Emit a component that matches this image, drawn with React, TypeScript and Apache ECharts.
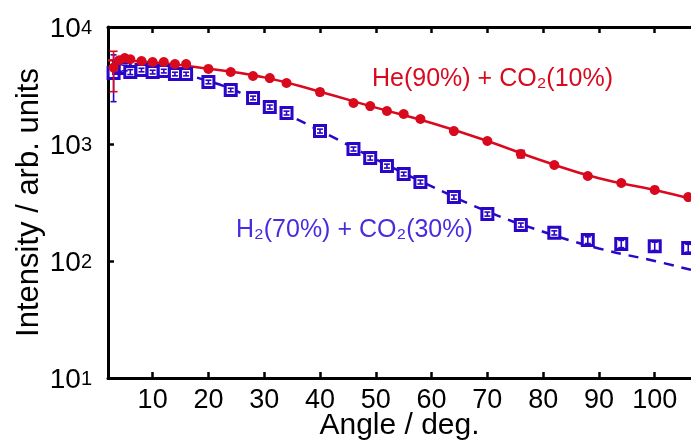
import React, { useEffect, useRef } from "react";
import * as echarts from "echarts";

const angles = [3, 4, 5, 6, 8, 10, 12, 14, 16, 20, 24, 28, 31, 34, 40, 46, 49, 52, 55, 58, 64, 70, 76, 82, 88, 94, 100, 106];
const heValues = [4500, 5200, 5430, 5300, 5120, 5020, 5020, 4830, 4830, 4380, 4125, 3810, 3660, 3320, 2780, 2240, 2110, 1915, 1805, 1635, 1290, 1060, 822, 662, 533, 464, 405, 352];
const heErrors = [1700, 250, 200, 150, 150, 150, 120, 120, 120, 120, 110, 100, 100, 100, 150, 60, 60, 55, 50, 45, 35, 30, 60, 20, 20, 14, 12, 10];
const h2Values = [4040, 4470, 4470, 4120, 4290, 4120, 4200, 3965, 3965, 3390, 2895, 2475, 2070, 1840, 1290, 906, 759, 648, 554, 473, 352, 252, 203, 174, 151, 140, 134, 129];
const h2Errors = [1740, 300, 250, 200, 150, 150, 150, 140, 140, 120, 100, 90, 80, 70, 50, 35, 30, 25, 20, 18, 14, 10, 8, 7, 10, 10, 11, 10];

const heFitAngles = [2, 10, 20, 30, 40, 50, 60, 70, 80, 90, 100, 106.5];
const heFitValues = [5200, 5000, 4400, 3710, 2800, 2045, 1510, 1060, 715, 510, 405, 340];
const h2FitAngles = [2, 10, 20, 30, 40, 50, 60, 70, 80, 90, 100, 106.5];
const h2FitValues = [4300, 4250, 3450, 2200, 1300, 740, 435, 265, 178, 128, 100, 84];

const xTicks = [10, 20, 30, 40, 50, 60, 70, 80, 90, 100];

const RED = "#d90a1e";
const BLUE = "#2a06c8";
const BLUE_TEXT = "#4a2be0";
const FONT = "'Liberation Sans', Arial, sans-serif";

function errorBarSeries(name: string, values: number[], errors: number[], color: string, cap: number, z: number) {
  const data = angles.map((a, i) => [a, values[i] - errors[i], values[i] + errors[i]]);
  return {
    type: "custom",
    name,
    z,
    data,
    renderItem: (params: any, api: any) => {
      const x = api.value(0);
      const lo = api.coord([x, api.value(1)]);
      const hi = api.coord([x, api.value(2)]);
      const st = { stroke: color, lineWidth: 1.6 };
      return {
        type: "group",
        children: [
          { type: "line", shape: { x1: lo[0], y1: lo[1], x2: hi[0], y2: hi[1] }, style: st },
          { type: "line", shape: { x1: lo[0] - cap, y1: lo[1], x2: lo[0] + cap, y2: lo[1] }, style: st },
          { type: "line", shape: { x1: hi[0] - cap, y1: hi[1], x2: hi[0] + cap, y2: hi[1] }, style: st },
        ],
      };
    },
  };
}

export default function App() {
  const ref = useRef<HTMLDivElement>(null);
  useEffect(() => {
    if (!ref.current) return;
    const chart = echarts.init(ref.current, null, { renderer: "svg" });
    const axisLine = { show: true, onZero: false, lineStyle: { color: "#000", width: 3 } };
    const axisTick = { show: true, inside: true, length: 6, lineStyle: { color: "#000", width: 2.5 } };
    chart.setOption({
      animation: false,
      textStyle: { fontFamily: FONT },
      grid: { left: 108, top: 27, right: 0, bottom: 63, outerBoundsMode: "none", containLabel: false },
      xAxis: [
        {
          type: "value",
          position: "bottom",
          min: 2,
          max: 106.5,
          axisLine,
          axisTick: { ...axisTick, customValues: xTicks },
          splitLine: { show: false },
          axisLabel: { customValues: xTicks, fontSize: 27, lineHeight: 22, color: "#000", margin: 10, fontFamily: FONT },
          name: "Angle / deg.",
          nameLocation: "middle",
          nameGap: 32,
          nameMoveOverlap: false,
          nameTextStyle: { fontSize: 30, lineHeight: 26, color: "#000", fontFamily: FONT },
        },
        {
          type: "value",
          position: "top",
          min: 2,
          max: 106.5,
          axisLine,
          axisTick: { ...axisTick, customValues: xTicks },
          splitLine: { show: false },
          axisLabel: { show: false },
        },
      ],
      yAxis: {
        type: "log",
        logBase: 10,
        min: 10,
        max: 10000,
        axisLine,
        axisTick,
        minorTick: { show: false },
        splitLine: { show: false },
        axisLabel: {
          margin: 16,
          formatter: (v: number) => `{b|10}{s|${Math.round(Math.log10(v))}}`,
          rich: {
            b: { fontSize: 28, lineHeight: 28, color: "#000", fontFamily: FONT },
            s: { fontSize: 20, lineHeight: 20, color: "#000", fontFamily: FONT, verticalAlign: "middle" },
          },
        },
        name: "Intensity / arb. units",
        nameLocation: "middle",
        nameGap: 65,
        nameMoveOverlap: false,
        nameTextStyle: { fontSize: 31, color: "#000", fontFamily: FONT },
      },
      series: [
        {
          type: "line",
          data: heFitAngles.map((a, i) => [a, heFitValues[i]]),
          smooth: true,
          showSymbol: false,
          lineStyle: { color: RED, width: 2.5 },
          z: 2,
        },
        {
          type: "line",
          data: h2FitAngles.map((a, i) => [a, h2FitValues[i]]),
          smooth: true,
          showSymbol: false,
          lineStyle: { color: BLUE, width: 2.5, type: [10, 8] },
          z: 2,
        },
        {
          type: "scatter",
          data: angles.map((a, i) => [a, h2Values[i]]),
          symbol: "rect",
          symbolSize: 11,
          itemStyle: { color: "#fff", borderColor: BLUE, borderWidth: 3, opacity: 1 },
          z: 3,
        },
        errorBarSeries("h2err", h2Values, h2Errors, BLUE, 3, 4),
        {
          type: "scatter",
          data: angles.map((a, i) => [a, heValues[i]]),
          symbol: "circle",
          symbolSize: 10,
          itemStyle: { color: RED, opacity: 1 },
          z: 5,
        },
        errorBarSeries("heerr", heValues, heErrors, RED, 4, 6),
      ],
      graphic: [
        {
          type: "text",
          left: 372,
          top: 64,
          style: { text: "He(90%) + CO\u2082(10%)", fontSize: 25, fontFamily: FONT, fill: RED },
        },
        {
          type: "text",
          left: 236,
          top: 215,
          style: { text: "H\u2082(70%) + CO\u2082(30%)", fontSize: 25, fontFamily: FONT, fill: BLUE_TEXT },
        },
      ],
    });
    return () => chart.dispose();
  }, []);
  return <div ref={ref} style={{ position: "fixed", left: 0, top: 0, width: 691, height: 441 }} />;
}
